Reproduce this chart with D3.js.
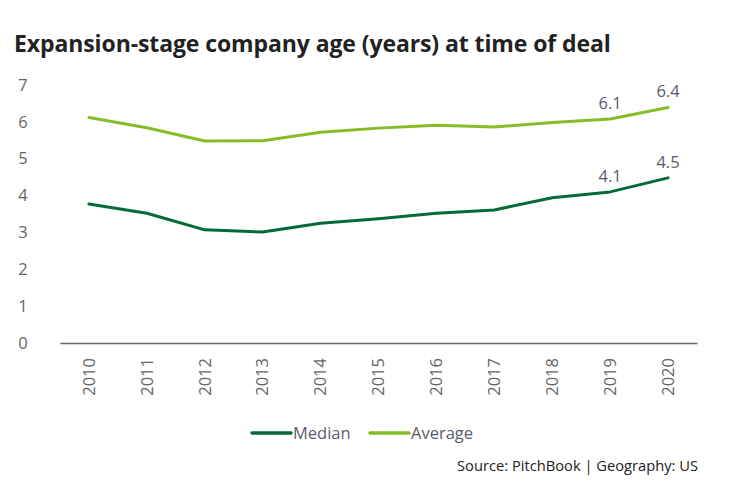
<!DOCTYPE html>
<html>
<head>
<meta charset="utf-8">
<script src="https://cdn.jsdelivr.net/npm/d3@7"></script>
<style>
  body { margin: 0; background: #fff; }
  svg { font-family: "Open Sans", sans-serif; }
</style>
</head>
<body>
<svg></svg>
<script>
const years = ["2010", "2011", "2012", "2013", "2014", "2015", "2016", "2017", "2018", "2019", "2020"];
const median = [3.77, 3.52, 3.07, 3.01, 3.25, 3.37, 3.52, 3.61, 3.94, 4.1, 4.48];
const average = [6.12, 5.84, 5.48, 5.49, 5.72, 5.83, 5.91, 5.86, 5.98, 6.08, 6.39];
const yTicks = [0, 1, 2, 3, 4, 5, 6, 7];
const labelled = ["2019", "2020"];

const svgWidth = 731, svgHeight = 490;

const svg = d3.select("svg")
    .attr("width", svgWidth)
    .attr("height", svgHeight);

svg.append("text")
    .attr("x", 14)
    .attr("y", 52)
    .attr("font-size", 23)
    .attr("font-weight", 700)
    .attr("fill", "#222")
    .attr("letter-spacing", -0.1)
    .text("Expansion-stage company age (years) at time of deal");

const x = d3.scaleBand()
    .domain(years)
    .range([60, 697]);

const y = d3.scaleLinear()
    .domain([0, 7])
    .range([343, 85]);

// y tick labels (no axis line)
svg.append("g")
    .selectAll("text")
    .data(yTicks)
    .join("text")
    .attr("x", 23)
    .attr("y", d => y(d))
    .attr("dy", "0.35em")
    .attr("text-anchor", "middle")
    .attr("font-size", 16.5)
    .attr("fill", "#666")
    .text(d => d);

// x axis
const xAxis = svg.append("g")
    .attr("transform", "translate(0," + y(0) + ")")
    .call(d3.axisBottom(x).tickSize(0).tickPadding(0));

xAxis.select(".domain")
    .attr("stroke", "#666")
    .attr("stroke-width", 1.5);

xAxis.selectAll("text")
    .attr("font-family", "Open Sans, sans-serif")
    .attr("font-size", 16.5)
    .attr("fill", "#666")
    .attr("text-anchor", "end")
    .attr("transform", "rotate(-90)")
    .attr("x", -15)
    .attr("y", 0)
    .attr("dy", "0.35em");

const line = d3.line()
    .x((d, i) => x(years[i]) + x.bandwidth() / 2)
    .y(d => y(d));

const series = [
    { name: "Median", values: median, color: "#046a38" },
    { name: "Average", values: average, color: "#86bc25" }
];

series.forEach(s => {
    svg.append("path")
        .datum(s.values)
        .attr("fill", "none")
        .attr("stroke", s.color)
        .attr("stroke-width", 3)
        .attr("stroke-linejoin", "round")
        .attr("stroke-linecap", "round")
        .attr("d", line);

    svg.append("g")
        .selectAll("text")
        .data(labelled)
        .join("text")
        .attr("x", d => x(d) + x.bandwidth() / 2)
        .attr("y", d => y(s.values[years.indexOf(d)]) - 10)
        .attr("text-anchor", "middle")
        .attr("font-size", 16.5)
        .attr("fill", "#5b5b6b")
        .text(d => s.values[years.indexOf(d)].toFixed(1));
});

// legend
const legend = svg.append("g").attr("transform", "translate(252,433)");
const legendPos = [0, 118];
series.forEach((s, i) => {
    const g = legend.append("g").attr("transform", "translate(" + legendPos[i] + ",0)");
    g.append("line")
        .attr("x1", 0).attr("x2", 39)
        .attr("stroke", s.color)
        .attr("stroke-width", 3.5)
        .attr("stroke-linecap", "round");
    g.append("text")
        .attr("x", 41)
        .attr("dy", "0.35em")
        .attr("font-size", 16.5)
        .attr("fill", "#5b5b6b")
        .text(s.name);
});

svg.append("text")
    .attr("x", 698)
    .attr("y", 471)
    .attr("text-anchor", "end")
    .attr("font-size", 14.7)
    .attr("fill", "#222")
    .text("Source: PitchBook | Geography: US");
</script>
</body>
</html>
